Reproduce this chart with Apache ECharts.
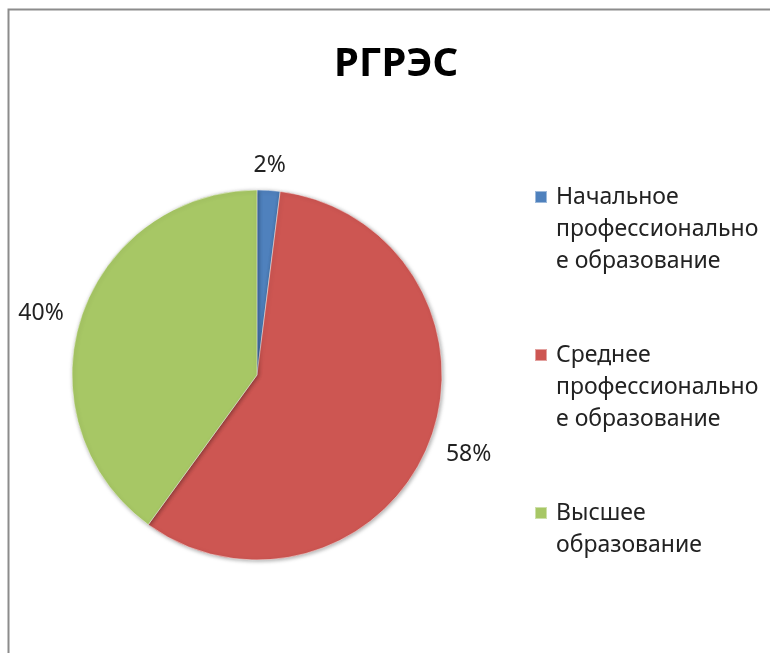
<!DOCTYPE html>
<html>
<head>
<meta charset="utf-8">
<script src="https://cdn.jsdelivr.net/npm/echarts@6/dist/echarts.min.js"></script>
<style>
  html, body { margin: 0; padding: 0; background: #fff; }
  #chart { width: 770px; height: 653px; }
</style>
</head>
<body>
<div id="chart"></div>
<script>
const titleText = 'РГРЭС'
const categories = [
  'Начальное профессиональное образование',
  'Среднее профессиональное образование',
  'Высшее образование'
]
// wrapped the same way as the legend in the picture
const legendLabels = [
  'Начальное\nпрофессионально\nе образование',
  'Среднее\nпрофессионально\nе образование',
  'Высшее\nобразование'
]
const shares = [2, 58, 40]

const chart = echarts.init(document.getElementById('chart'))

// legend text is centred on the marker, so pad with empty lines
// to put the marker next to the first line
function legendText(name) {
  const lines = legendLabels[categories.indexOf(name)].split('\n')
  const after = 3 - lines.length
  return ['', ''].concat(lines, new Array(after).fill('')).join('\n')
}

chart.setOption({
  animation: false,
  color: ['#4F81BD', '#CD5652', '#A7C765'],
  title: {
    text: titleText,
    left: 329,
    top: 40,
    textStyle: {
      fontFamily: 'Noto Sans',
      fontSize: 40,
      fontWeight: 'bold',
      color: '#000'
    }
  },
  legend: {
    orient: 'vertical',
    left: 534,
    top: 117,
    padding: 0,
    itemGap: -2,
    itemWidth: 12,
    itemHeight: 12,
    icon: 'rect',
    formatter: legendText,
    textStyle: {
      fontFamily: 'Noto Sans',
      fontSize: 23,
      lineHeight: 32,
      color: '#222',
      padding: [0, 0, 0, 4]
    },
    data: categories
  },
  graphic: [
    {
      type: 'rect',
      left: 6,
      top: 7,
      silent: true,
      shape: { width: 820, height: 700 },
      style: { fill: 'none', stroke: '#8c8c8c', lineWidth: 2 }
    }
  ],
  series: [
    {
      type: 'pie',
      center: [257, 375],
      radius: 185,
      startAngle: 90,
      clockwise: true,
      percentPrecision: 0,
      avoidLabelOverlap: false,
      data: categories.map((name, i) => ({ name, value: shares[i] })),
      label: {
        show: true,
        position: 'outside',
        formatter: '{d}%',
        fontFamily: 'Noto Sans',
        fontSize: 23,
        color: '#222',
        distanceToLabelLine: 3
      },
      labelLine: { show: false, length: 15, length2: 0 },
      labelLayout: p => {
        if (p.dataIndex === 0) return { dx: -19, dy: -10 }
        if (p.dataIndex === 1) return { dy: 6 }
        return {}
      },
      itemStyle: {
        borderColor: 'rgba(255,255,255,0.45)',
        borderWidth: 1,
        shadowBlur: 4,
        shadowColor: 'rgba(0,0,0,0.35)',
        shadowOffsetX: 1,
        shadowOffsetY: 1
      },
      emphasis: { scale: false }
    }
  ]
})
</script>
</body>
</html>
